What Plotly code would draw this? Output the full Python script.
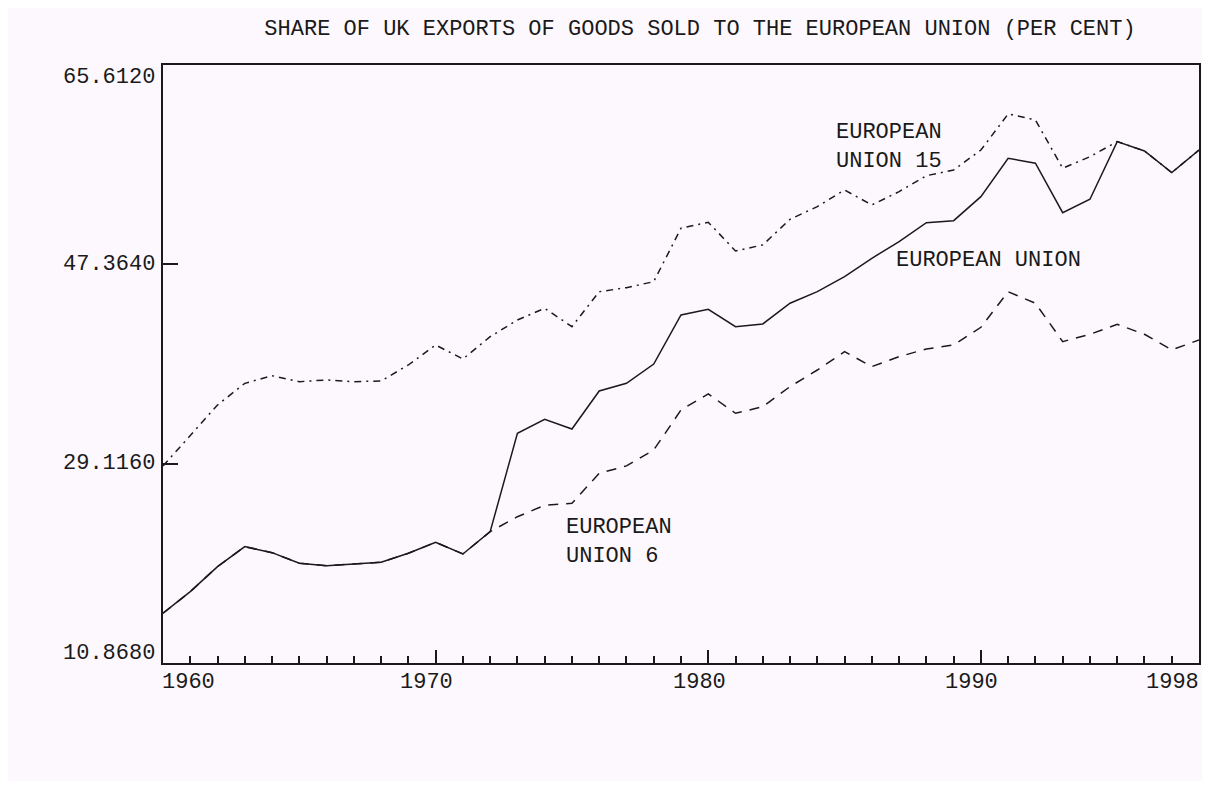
import plotly.graph_objects as go

years = list(range(1960, 1999))

eu = [15.42, 17.40, 19.69, 21.52, 20.97, 20.00, 19.78, 19.91, 20.09, 20.91,
      21.92, 20.85, 22.89, 31.90, 33.18, 32.29, 35.77, 36.47, 38.24, 42.73,
      43.25, 41.66, 41.91, 43.80, 44.86, 46.24, 47.92, 49.44, 51.18, 51.36,
      53.56, 57.07, 56.62, 52.09, 53.32, 58.60, 57.74, 55.76, 57.83]

eu15 = [28.90, 31.74, 34.49, 36.47, 37.17, 36.62, 36.78, 36.62, 36.69, 38.15,
        39.98, 38.70, 40.74, 42.27, 43.34, 41.66, 44.86, 45.23, 45.78, 50.67,
        51.22, 48.59, 49.14, 51.49, 52.65, 54.17, 52.80, 54.02, 55.48, 56.00,
        57.83, 61.13, 60.58, 56.16, 57.22, 58.60, 57.74, 55.76, 57.83]

eu6 = [15.42, 17.40, 19.69, 21.52, 20.97, 20.00, 19.78, 19.91, 20.09, 20.91,
       21.92, 20.85, 22.89, 24.26, 25.31, 25.49, 28.24, 28.91, 30.37, 34.03,
       35.50, 33.73, 34.33, 36.17, 37.69, 39.37, 38.00, 38.91, 39.62, 39.98,
       41.60, 44.86, 43.80, 40.29, 40.96, 41.87, 40.96, 39.53, 40.44]

y_ticks = [10.868, 29.116, 47.364, 65.612]
y_tick_text = ["10.8680", "29.1160", "47.3640", "65.6120"]
x_ticks = [1960, 1970, 1980, 1990, 1998]
x_tick_text = ["1960", "1970", "1980", "1990", "1998"]

title = "SHARE OF UK EXPORTS OF GOODS SOLD TO THE EUROPEAN UNION (PER CENT)"

FONT = "Liberation Mono"
FS = 22
INK = "#1a1a1a"
BG = "#fdf8fd"
W, H = 1194, 773

fig = go.Figure()
fig.add_trace(go.Scatter(x=years, y=eu6, mode="lines", name="European Union 6",
                         line=dict(color=INK, width=1.5, dash="10px,8px")))
fig.add_trace(go.Scatter(x=years, y=eu15, mode="lines", name="European Union 15",
                         line=dict(color=INK, width=1.5, dash="7px,5px,2px,5px")))
fig.add_trace(go.Scatter(x=years, y=eu, mode="lines", name="European Union",
                         line=dict(color=INK, width=1.5)))

annotations = []
# y tick labels
for v, t in zip(y_ticks, y_tick_text):
    if v == y_ticks[-1]:
        ya, ys = "top", 2
    elif v == y_ticks[0]:
        ya, ys = "bottom", -5
    else:
        ya, ys = "middle", 0
    annotations.append(dict(x=0, xref="paper", y=v, yref="y", text=t,
                            showarrow=False, xanchor="right", yanchor=ya,
                            xshift=-6, yshift=ys,
                            font=dict(family=FONT, size=FS, color=INK)))
# x tick labels
for v, t in zip(x_ticks, x_tick_text):
    if v == x_ticks[0]:
        xa, xs = "left", -3
    elif v == x_ticks[-1]:
        xa, xs = "right", 2
    else:
        xa, xs = "center", -9
    annotations.append(dict(x=v, xref="x", y=0, yref="paper", text=t,
                            showarrow=False, xanchor=xa, yanchor="top",
                            xshift=xs, yshift=-5,
                            font=dict(family=FONT, size=FS, color=INK)))
# series labels
annotations.append(dict(x=1984.6, y=60.8, xref="x", yref="y",
                        text="EUROPEAN<br>UNION 15", align="left",
                        showarrow=False, xanchor="left", yanchor="top",
                        font=dict(family=FONT, size=FS, color=INK)))
annotations.append(dict(x=1986.8, y=47.7, xref="x", yref="y",
                        text="EUROPEAN UNION", align="left",
                        showarrow=False, xanchor="left", yanchor="middle",
                        font=dict(family=FONT, size=FS, color=INK)))
annotations.append(dict(x=1974.7, y=24.6, xref="x", yref="y",
                        text="EUROPEAN<br>UNION 6", align="left",
                        showarrow=False, xanchor="left", yanchor="top",
                        font=dict(family=FONT, size=FS, color=INK)))

fig.update_layout(
    width=W, height=H,
    margin=dict(l=155, r=1, t=57, b=118),
    paper_bgcolor=BG, plot_bgcolor=BG,
    showlegend=False,
    title=dict(text=title, x=692 / W, xref="container", xanchor="center",
               y=1 - 19 / H, yref="container", yanchor="middle",
               font=dict(family=FONT, size=FS, color=INK)),
    annotations=annotations,
)
fig.update_xaxes(range=[1960, 1998], tickvals=x_ticks, showticklabels=False,
                 ticks="inside", ticklen=13, tickwidth=1.5, tickcolor=INK,
                 minor=dict(dtick=1, tick0=1960, ticks="inside", ticklen=7,
                            tickwidth=1.5, tickcolor=INK),
                 showline=True, linecolor=INK, linewidth=1.5, mirror=True,
                 showgrid=False, zeroline=False)
fig.update_yaxes(range=[10.868, 65.612], tickvals=y_ticks, showticklabels=False,
                 ticks="inside", ticklen=15, tickwidth=1.5, tickcolor=INK,
                 showline=True, linecolor=INK, linewidth=1.5, mirror=True,
                 showgrid=False, zeroline=False)

fig.write_html("out.html")
